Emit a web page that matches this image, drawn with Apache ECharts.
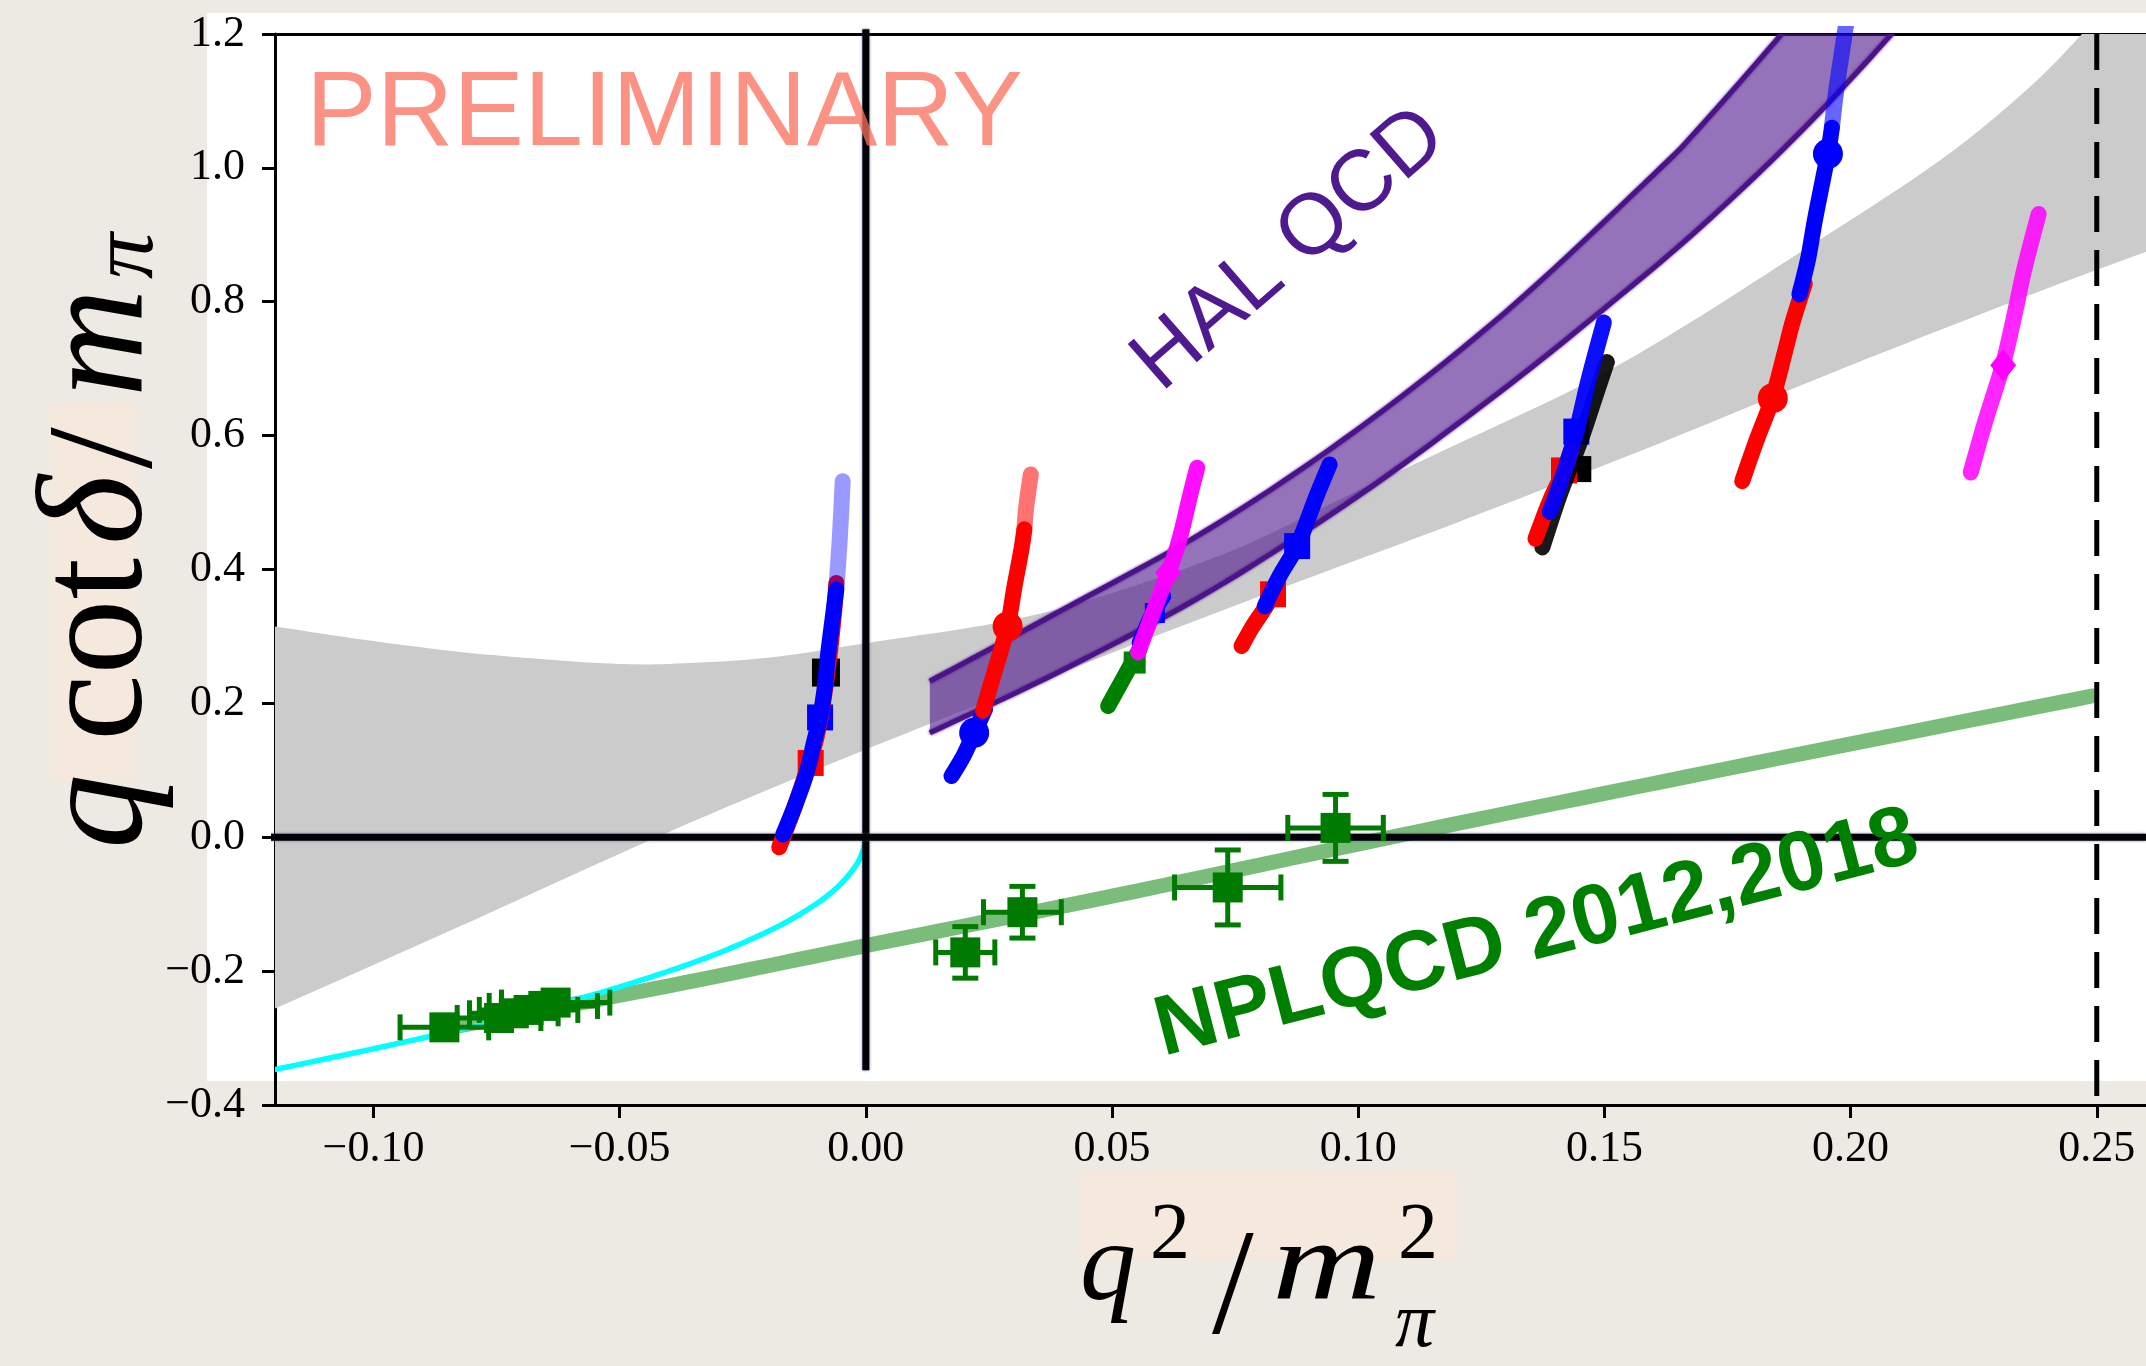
<!DOCTYPE html>
<html>
<head>
<meta charset="utf-8">
<script src="https://cdn.jsdelivr.net/npm/echarts@6.0.0/dist/echarts.min.js"></script>
<style>
  html, body { margin: 0; padding: 0; background: #edeae4; }
  #wrap { position: relative; width: 2146px; height: 1366px; overflow: hidden; background: #edeae4; }
  .panel { position: absolute; background: #ffffff; }
  .hl { position: absolute; background: #f4e9dc; }
  #chart { position: absolute; left: 0; top: 0; width: 2146px; height: 1366px; }
</style>
</head>
<body>
<div id="wrap">
  <div class="panel" style="left:207px;top:13px;width:1939px;height:1068px"></div>
  <div class="hl" style="left:49px;top:404px;width:88px;height:377px"></div>
  <div class="hl" style="left:1079px;top:1172px;width:378px;height:88px"></div>
  <div id="chart"></div>
</div>
<script>
// ---- axis ticks ----
const xTickValues = [-0.10, -0.05, 0.00, 0.05, 0.10, 0.15, 0.20, 0.25];

// ---- grey band (EFT fit) ----
const grayUpper = [[-0.125,0.321],[-0.12,0.315],[-0.10,0.293],[-0.08,0.275],[-0.06,0.263],[-0.05,0.259],[-0.04,0.259],[-0.02,0.268],[0.0,0.29],[0.0286,0.323],[0.05,0.365],[0.075,0.43],[0.0983,0.512],[0.1206,0.589],[0.145,0.674],[0.165,0.758],[0.19,0.875],[0.21,0.97],[0.2234,1.04],[0.237,1.125],[0.247,1.2],[0.255,1.27],[0.265,1.36]];
const grayLower = [[-0.125,-0.272],[-0.12,-0.256],[-0.08,-0.125],[-0.04,0.008],[0.0,0.131],[0.04,0.247],[0.08,0.36],[0.12,0.47],[0.16,0.585],[0.20,0.705],[0.24,0.82],[0.265,0.888]];

// ---- HAL QCD band ----
const halUpper = [[0.013,0.233],[0.04,0.34],[0.07,0.462],[0.10,0.61],[0.13,0.785],[0.16,0.99],[0.1693,1.06],[0.186,1.2],[0.19,1.24]];
const halLower = [[0.013,0.156],[0.04,0.25],[0.07,0.368],[0.10,0.51],[0.1275,0.658],[0.15,0.79],[0.1693,0.91],[0.19,1.055],[0.2083,1.2],[0.212,1.24]];

// ---- bound-state condition curve ----
const cyanCurve = [[-0.12,-0.347],[-0.10,-0.316],[-0.08,-0.283],[-0.06,-0.245],[-0.045,-0.212],[-0.032,-0.179],[-0.022,-0.148],[-0.015,-0.122],[-0.009,-0.094],[-0.005,-0.069],[-0.002,-0.042],[-0.0005,-0.018],[0.0,0.0]];

// ---- NPLQCD fit line and points [x, y, xerr, yerr] ----
const nplFit = [[-0.085,-0.285],[-0.04,-0.222],[0.0,-0.162],[0.05,-0.088],[0.1125,0.009],[0.18,0.11],[0.249,0.211]];
const nplPoints = [
  [-0.0856,-0.284,0.009,0.010],
  [-0.0745,-0.270,0.0085,0.012],
  [-0.0715,-0.263,0.009,0.012],
  [-0.0685,-0.258,0.010,0.012],
  [-0.0655,-0.252,0.011,0.012],
  [-0.0630,-0.247,0.011,0.012],
  [0.0202,-0.172,0.006,0.0385],
  [0.0318,-0.112,0.0079,0.0386],
  [0.0735,-0.075,0.0108,0.056],
  [0.0954,0.014,0.0097,0.050]
];

// ---- lattice tracks ----
const redA = [[-0.0176,-0.015],[-0.0150,0.035],[-0.0122,0.095],[-0.0100,0.15],[-0.0085,0.21],[-0.0074,0.27],[-0.0064,0.34],[-0.0060,0.38]];
const blueA = [[-0.0168,0.004],[-0.0144,0.047],[-0.0120,0.097],[-0.0104,0.146],[-0.0093,0.179],[-0.0083,0.226],[-0.0077,0.271],[-0.0066,0.335],[-0.0060,0.37]];
const blueAFaded = [[-0.0060,0.37],[-0.0053,0.445],[-0.0047,0.532]];
const blueB = [[0.0174,0.0915],[0.0198,0.121],[0.0220,0.156],[0.0242,0.191]];
const redB = [[0.0238,0.189],[0.0265,0.256],[0.0288,0.315],[0.0302,0.375],[0.0316,0.43],[0.0322,0.46]];
const redBFaded = [[0.0322,0.46],[0.0326,0.495],[0.0335,0.542]];
const greenC = [[0.0492,0.196],[0.0522,0.236],[0.0556,0.281]];
const blueC = [[0.0556,0.29],[0.0583,0.335],[0.0604,0.36]];
const magentaC = [[0.0553,0.276],[0.0583,0.335],[0.0614,0.395],[0.0631,0.43],[0.0644,0.465],[0.0658,0.509],[0.0673,0.552]];
const redD = [[0.0763,0.2856],[0.0786,0.3154],[0.0813,0.345],[0.0827,0.363]];
const blueD = [[0.0810,0.345],[0.0840,0.39],[0.0876,0.435],[0.0895,0.47],[0.0915,0.509],[0.0942,0.557]];
const blackE = [[0.1374,0.433],[0.1410,0.513],[0.1454,0.598],[0.1483,0.662],[0.1505,0.71]];
const redE = [[0.1360,0.446],[0.1389,0.502],[0.1418,0.548],[0.1432,0.577]];
const blueE = [[0.1389,0.486],[0.1418,0.545],[0.1443,0.606],[0.1468,0.684],[0.1499,0.769]];
const redF = [[0.1780,0.532],[0.1809,0.593],[0.1842,0.657],[0.1867,0.726],[0.1882,0.769],[0.1907,0.827]];
const blueF = [[0.1896,0.811],[0.1914,0.865],[0.1927,0.92],[0.1954,1.021],[0.1962,1.06]];
const blueFFaded = [[0.1962,1.06],[0.1970,1.111],[0.1988,1.2],[0.1992,1.22]];
const magentaG = [[0.2244,0.545],[0.2273,0.62],[0.2309,0.705],[0.2331,0.774],[0.2353,0.849],[0.2382,0.931]];

// ---- highlighted points on the tracks ----
const squareMarks = [
  [-0.0081,0.246,'#000000',28], [-0.0112,0.111,'#ff0000',26], [-0.0093,0.179,'#0000ff',26],
  [0.0546,0.261,'#008000',22], [0.0587,0.335,'#0000ff',20],
  [0.0827,0.363,'#ff0000',26], [0.0876,0.435,'#0000ff',26],
  [0.1447,0.550,'#000000',26], [0.1418,0.548,'#ff0000',26], [0.1443,0.606,'#0000ff',26]
];
const circleMarks = [
  [0.0220,0.156,'#0000ff',30], [0.0288,0.315,'#ff0000',30],
  [0.1842,0.656,'#ff0000',30], [0.1954,1.021,'#0000ff',30]
];
const diamondMarks = [[0.0614,0.395,'#ff00ff',[26,32]], [0.2310,0.705,'#ff00ff',[26,32]]];

// ---- reference lines ----
const zeroVertical = [[0,1.207],[0,-0.348]];
const zeroHorizontal = [[-0.127,0],[0.26,0]];
const thresholdLine = [[0.25,1.2],[0.25,-0.4]];

// Catmull-Rom smoothing of a pixel polyline (drawing only)
function smoothPx(pts, steps) {
  const out = [];
  for (let i = 0; i < pts.length - 1; i++) {
    const p0 = pts[i - 1] || pts[i], p1 = pts[i], p2 = pts[i + 1], p3 = pts[i + 2] || pts[i + 1];
    for (let s = 0; s < steps; s++) {
      const t = s / steps, t2 = t * t, t3 = t2 * t;
      const f = (a, b, c, d) => 0.5 * ((2 * b) + (-a + c) * t + (2 * a - 5 * b + 4 * c - d) * t2 + (-a + 3 * b - 3 * c + d) * t3);
      out.push([f(p0[0], p1[0], p2[0], p3[0]), f(p0[1], p1[1], p2[1], p3[1])]);
    }
  }
  out.push(pts[pts.length - 1]);
  return out;
}

function clipRect(params) {
  const cs = params.coordSys;
  return { type: 'rect', shape: { x: cs.x, y: cs.y, width: cs.width, height: cs.height } };
}

function bandSeries(upper, lower, fill, edge, z) {
  return {
    type: 'custom', z: z, clip: true, silent: true,
    data: [[0, 0]], encode: { x: 0, y: 1 },
    renderItem: function (params, api) {
      const up = smoothPx(upper.map(p => api.coord(p)), 10);
      const lo = smoothPx(lower.map(p => api.coord(p)), 10);
      const children = [{ type: 'polygon', shape: { points: up.concat(lo.slice().reverse()) }, style: { fill: fill } }];
      if (edge) {
        const es = { stroke: edge, lineWidth: 5, fill: null, shadowBlur: 3, shadowColor: edge };
        children.push({ type: 'polyline', shape: { points: up }, style: es });
        children.push({ type: 'polyline', shape: { points: lo }, style: es });
      }
      return { type: 'group', children: children, clipPath: clipRect(params) };
    }
  };
}

function curveSeries(points, color, width, z) {
  return {
    type: 'custom', z: z, clip: true, silent: true,
    data: [[points[0][0], points[0][1]]], encode: { x: 0, y: 1 },
    renderItem: function (params, api) {
      const px = smoothPx(points.map(p => api.coord(p)), 12);
      return { type: 'group', clipPath: clipRect(params), children: [
        { type: 'polyline', shape: { points: px }, style: { stroke: color, lineWidth: width, fill: null, lineCap: 'round', lineJoin: 'round' } }
      ] };
    }
  };
}

function trackSeries(data, color, opacity, z) {
  return {
    type: 'line', data: data, z: z, smooth: 0.3, symbol: 'none', silent: true, clip: true,
    lineStyle: { color: color, width: 16, opacity: opacity, cap: 'round', join: 'round' }
  };
}

function markSeries(list, symbol, z) {
  return {
    type: 'scatter', z: z, silent: true, symbol: symbol,
    data: list.map(m => ({ value: [m[0], m[1]], symbolSize: m[3], itemStyle: { color: m[2], opacity: 1 } }))
  };
}

const fmt = (v, d) => (v < -1e-9 ? '\u2212' : '') + Math.abs(v).toFixed(d);

const serif = '"Liberation Serif", "DejaVu Serif", serif';
const sans = '"Liberation Sans", Arial, Helvetica, sans-serif';

// math-style axis titles built from glyph pieces
function piece(t, x, base, size, italic, extra) {
  return Object.assign({
    type: 'text',
    style: { text: t, x: x, y: base - 0.34 * size, fill: '#000',
             font: (italic ? 'italic ' : '') + size + 'px ' + serif, verticalAlign: 'middle', align: 'left' }
  }, extra || {});
}

const xTitle = {
  type: 'group', z: 50,
  children: [
    piece('q', 1080, 1308, 112, true),
    piece('2', 1150, 1264, 80, false),
    piece('/', 1212, 1345, 150, false),
    Object.assign(piece('m', 1272, 1308, 112, true), { scaleX: 1.35, originX: 1272 }),
    piece('2', 1398, 1264, 80, false),
    piece('\u03c0', 1395, 1352, 78, true)
  ]
};

const yTitle = {
  type: 'group', z: 50, x: 153, y: 849, rotation: Math.PI / 2,
  children: [
    piece('q', 0, 0, 150, true),
    piece('cot', 108, 0, 150, false),
    piece('\u03b4', 304, 0, 150, true),
    piece('/', 380, 10, 150, false),
    piece('m', 452, 0, 150, true),
    piece('\u03c0', 570, 6, 92, true)
  ]
};

const chart = echarts.init(document.getElementById('chart'), null, { renderer: 'canvas' });

chart.setOption({
  backgroundColor: 'transparent',
  animation: false,
  grid: { left: 275, right: 0, top: 34, bottom: 261, containLabel: false },
  xAxis: [
    {
      type: 'value', min: -0.12, max: 0.26, position: 'bottom',
      axisLine: { show: true, onZero: false, lineStyle: { color: '#000', width: 3 } },
      axisTick: { show: true, length: 13, inside: false, customValues: xTickValues, lineStyle: { color: '#000', width: 3 } },
      axisLabel: { show: true, customValues: xTickValues, formatter: v => fmt(v, 2), margin: 22,
                   fontFamily: serif, fontSize: 44, color: '#000' },
      splitLine: { show: false }
    },
    {
      type: 'value', min: -0.12, max: 0.26, position: 'top',
      axisLine: { show: true, onZero: false, lineStyle: { color: '#000', width: 3 } },
      axisTick: { show: false }, axisLabel: { show: false }, splitLine: { show: false }
    }
  ],
  yAxis: {
    type: 'value', min: -0.4, max: 1.2, interval: 0.2,
    axisLine: { show: true, onZero: false, lineStyle: { color: '#000', width: 3 } },
    axisTick: { show: true, length: 13, inside: false, lineStyle: { color: '#000', width: 3 } },
    axisLabel: { show: true, formatter: v => fmt(v, 1), margin: 30, fontFamily: serif, fontSize: 44, color: '#000' },
    splitLine: { show: false }
  },
  series: [
    bandSeries(grayUpper, grayLower, '#cbcbcb', null, 1),
    bandSeries(halUpper, halLower, 'rgba(78,22,140,0.6)', '#4a1488', 2),
    curveSeries(nplFit, 'rgba(0,128,0,0.52)', 15, 3),
    curveSeries(cyanCurve, '#00ffff', 5.5, 4),
    { type: 'line', data: zeroVertical, z: 5, clip: false, symbol: 'none', silent: true,
      lineStyle: { color: '#020208', width: 7, shadowBlur: 3, shadowColor: 'rgba(60,80,130,0.7)' } },
    { type: 'line', data: zeroHorizontal, z: 5, clip: false, symbol: 'none', silent: true,
      lineStyle: { color: '#020208', width: 7, shadowBlur: 3, shadowColor: 'rgba(60,80,130,0.7)' } },
    { type: 'line', data: thresholdLine, z: 5, clip: false, symbol: 'none', silent: true,
      lineStyle: { color: '#000', width: 5, type: [36, 18] } },

    // tracks
    trackSeries(redA, '#ff0000', 1, 6),
    trackSeries(blueA, '#0000ff', 1, 6),
    trackSeries(blueAFaded, '#0000ff', 0.4, 6),
    trackSeries(blueB, '#0000ff', 1, 6),
    trackSeries(redB, '#ff0000', 1, 6),
    trackSeries(redBFaded, '#ff0000', 0.55, 6),
    trackSeries(greenC, '#008000', 1, 6),
    trackSeries(blueC, '#0000ff', 1, 6),
    trackSeries(magentaC, '#ff00ff', 0.95, 6),
    trackSeries(redD, '#ff0000', 1, 6),
    trackSeries(blueD, '#0000ff', 1, 6),
    trackSeries(blackE, '#000000', 0.9, 6),
    trackSeries(redE, '#ff0000', 1, 6),
    trackSeries(blueE, '#0000ff', 0.95, 6),
    trackSeries(redF, '#ff0000', 1, 6),
    trackSeries(blueF, '#0000ff', 1, 6),
    trackSeries(blueFFaded, '#0000ff', 0.6, 6),
    trackSeries(magentaG, '#ff00ff', 0.85, 6),

    markSeries(squareMarks, 'rect', 5.5),
    markSeries(circleMarks, 'circle', 7),
    markSeries(diamondMarks, 'diamond', 7),

    // NPLQCD error bars
    {
      type: 'custom', z: 8, silent: true, data: nplPoints, encode: { x: 0, y: 1 },
      renderItem: function (params, api) {
        const x = api.value(0), y = api.value(1), ex = api.value(2), ey = api.value(3);
        const l = api.coord([x - ex, y]), r = api.coord([x + ex, y]);
        const t = api.coord([x, y + ey]), b = api.coord([x, y - ey]);
        const cap = 13, st = { stroke: '#007a00', lineWidth: 5 };
        const ln = (x1, y1, x2, y2) => ({ type: 'line', shape: { x1, y1, x2, y2 }, style: st });
        return { type: 'group', children: [
          ln(l[0], l[1], r[0], r[1]),
          ln(l[0], l[1] - cap, l[0], l[1] + cap),
          ln(r[0], r[1] - cap, r[0], r[1] + cap),
          ln(t[0], t[1], b[0], b[1]),
          ln(t[0] - cap, t[1], t[0] + cap, t[1]),
          ln(b[0] - cap, b[1], b[0] + cap, b[1])
        ] };
      }
    },
    { type: 'scatter', z: 9, silent: true, symbol: 'rect', symbolSize: 30,
      itemStyle: { color: '#007a00', opacity: 1 }, data: nplPoints.map(p => [p[0], p[1]]) }
  ],
  graphic: [
    { type: 'text', z: 60, style: { text: 'PRELIMINARY', x: 306, y: 116, font: '106px ' + sans,
      fill: 'rgba(250,112,92,0.76)', align: 'left', verticalAlign: 'middle' } },
    { type: 'text', z: 60, x: 1290, y: 250, rotation: 41 * Math.PI / 180,
      style: { text: 'HAL QCD', x: 0, y: 0, font: '86px ' + sans, fill: '#4f1a8f', align: 'center', verticalAlign: 'middle' } },
    { type: 'text', z: 60, x: 1537, y: 935, rotation: 14.5 * Math.PI / 180,
      style: { text: 'NPLQCD 2012,2018', x: 0, y: 0, font: 'bold 85px ' + sans, fill: '#008000', align: 'center', verticalAlign: 'middle' } },
    xTitle,
    yTitle
  ]
});
</script>
</body>
</html>
